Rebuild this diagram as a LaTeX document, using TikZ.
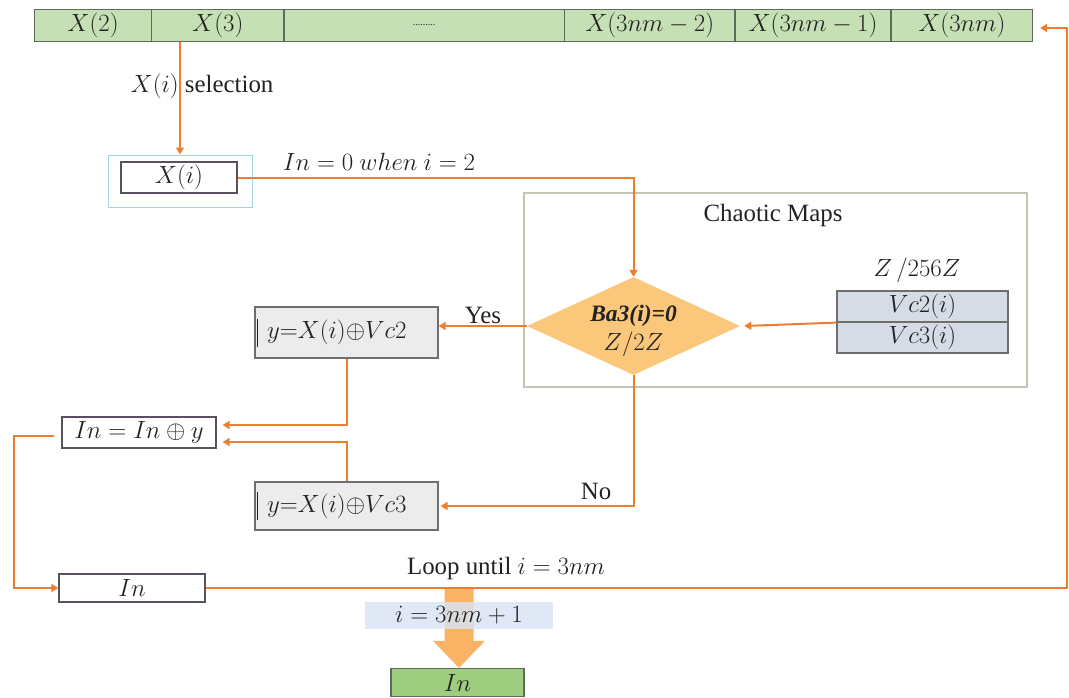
\documentclass[tikz,border=0pt]{standalone}
\usepackage{fontspec}
\setmainfont{Liberation Serif}
\usetikzlibrary{shapes.geometric,arrows.meta}

\definecolor{ink}{HTML}{222222}
\definecolor{flow}{HTML}{ED7D31}
\definecolor{bargreen}{HTML}{C5E0B4}
\definecolor{outgreen}{HTML}{9FCD80}
\definecolor{cellline}{HTML}{5E6B58}
\definecolor{boxline}{HTML}{5A5060}
\definecolor{skyline}{HTML}{9DD6EA}
\definecolor{mapline}{HTML}{C4C4B4}
\definecolor{decfill}{HTML}{FAC77B}
\definecolor{vcfill}{HTML}{D6DCE5}
\definecolor{yfill}{HTML}{ECECEC}
\definecolor{yline}{HTML}{6E6E6E}
\definecolor{stepblue}{HTML}{DAE3F3}
\definecolor{bigorange}{HTML}{F8B364}

\begin{document}
\begin{tikzpicture}[x=1pt,y=-1pt,
  font=\fontsize{24.88}{29}\selectfont,
  every node/.style={text=ink},
  wire/.style={draw=flow, line width=2pt},
  arr/.style={wire, -{Triangle[width=8pt,length=7pt]}},
  cell/.style={draw=cellline, fill=bargreen, line width=1.2pt, minimum height=32pt, inner sep=0pt},
  vcell/.style={draw=yline, fill=vcfill, line width=1.2pt, minimum width=171pt, minimum height=31pt, inner sep=0pt},
  plainbox/.style={draw=boxline, fill=white, line width=1.2pt, inner sep=0pt},
  ybox/.style={draw=yline, fill=yfill, line width=1.2pt, inner xsep=12pt, inner ysep=0pt,
    text width=159pt, align=left},
]
\useasboundingbox (0,0) rectangle (1069,697);

% input sequence
\node[cell, minimum width=117pt] (c2) at (93,25.3) {$X(2)$};
\node[cell, minimum width=132.5pt] (c3) at (217.75,25.3) {$X(3)$};
\node[cell, minimum width=280.4pt] (cd) at (424.2,25.3) {\fontsize{10}{12}\selectfont .........};
\node[cell, minimum width=170.6pt] (cm2) at (649.7,25.3) {$X(3nm-2)$};
\node[cell, minimum width=156pt] (cm1) at (813,25.3) {$X(3nm-1)$};
\node[cell, minimum width=141.6pt] (cm) at (961.8,25.3) {$X(3nm)$};

% selected element
\node[draw=skyline, line width=1pt, minimum width=144pt, minimum height=52pt] (xo) at (180,181) {};
\node[plainbox, minimum width=116pt, minimum height=31pt] (xi) at (179,177.5) {$X(i)$};

% chaotic maps
\node[draw=mapline, line width=1.2pt, minimum width=503pt, minimum height=194pt] (maps) at (775.5,290) {};
\node (mapt) at (773,216) {Chaotic Maps};
\node[diamond, fill=decfill, minimum width=213pt, minimum height=98pt, inner sep=0pt] (dia) at (633.5,326) {};
\node[align=center, inner sep=0pt, font=\fontsize{23.5}{28}\selectfont] (diat) at ([yshift=-5pt]dia.center)
  {\bfseries\itshape Ba3(i)=0\\[1pt] $Z/2Z$};
\node (ring) at (917,270) {$Z\,/256Z$};
\node[vcell] (vc2) at (922.5,306.5) {$Vc2(i)$};
\node[vcell] (vc3) at (922.5,337.5) {$Vc3(i)$};

% xor branches
\node[ybox, minimum height=51pt] (y1) at (346.5,332.5) {$y{=}X(i){\oplus}Vc2$};
\node[ybox, minimum height=48pt] (y2) at (346.5,506) {$y{=}X(i){\oplus}Vc3$};
\draw[ink, line width=1.6pt] ([xshift=3pt]y1.west) ++(0,-14) -- ++(0,28);
\draw[ink, line width=1.6pt] ([xshift=3pt]y2.west) ++(0,-14) -- ++(0,28);
\node[plainbox, minimum width=154pt, minimum height=31pt] (ino) at (139,432.5) {$In = In\oplus y$};
\node[plainbox, minimum width=146pt, minimum height=28pt] (inb) at (132,588) {$In$};

% exit
\node[draw=cellline, fill=outgreen, line width=1.2pt, minimum width=133pt, minimum height=28pt, inner sep=0pt] (outb) at (457.5,682.5) {$In$};
\fill[bigorange] ([xshift=1.5pt]outb.north) -- ++(-26,-27) -- ++(11.5,0) -- ++(0,-53) -- ++(29,0) -- ++(0,53) -- ++(11.5,0) -- cycle;
\node[fill=stepblue, fill opacity=0.85, text opacity=1, minimum width=188pt, minimum height=27pt, inner sep=0pt] (last) at (459,615.5) {$i = 3nm + 1$};

% connectors
\coordinate (rx) at (1067,0);
\coordinate (lx) at (14,0);
\draw[arr] (xo.north |- c3.south) -- (xo.north);
\draw[arr] (xi.east) -| (dia.north);
\draw[arr] (vc2.south west) -- ([xshift=4pt]dia.east);
\draw[arr] (dia.west) -- (dia.west -| y1.east);
\draw[arr] (dia.south) |- ([xshift=2pt]y2.east);
\draw[arr] (y1.south) |- ([xshift=6pt,yshift=7.5pt]ino.east);
\draw[arr] (y2.north) |- ([xshift=6pt,yshift=-9.5pt]ino.east);
\draw[arr] ([xshift=-7pt,yshift=-3.5pt]ino.west) -| (lx |- inb.west) -- (inb.west);
\draw[arr] (inb.east) -- (rx |- inb.east) |- ([xshift=7pt,yshift=-2.7pt]cm.east);

% labels
\node (sel) at (202,86) {$X(i)$ selection};
\node (init) at (379,162) {$In = 0\ when\ i = 2$};
\node (yes) at (483,315) {Yes};
\node (no) at (596,491) {No};
\node (loop) at (506,569) {Loop until $i = 3nm$};
\end{tikzpicture}
\end{document}
